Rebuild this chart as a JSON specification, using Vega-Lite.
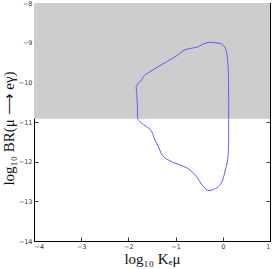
{
  "$schema": "https://vega.github.io/schema/vega-lite/v6.json",
  "width": 236,
  "height": 238,
  "autosize": {"type": "none"},
  "padding": {"left": 34, "top": 3, "right": 3, "bottom": 28},
  "background": "white",
  "config": {
    "view": {"stroke": "black", "strokeWidth": 1},
    "axis": {
      "grid": false,
      "domain": false,
      "tickSize": -4,
      "tickColor": "black",
      "tickWidth": 0.8,
      "labelFont": "DejaVu Sans",
      "labelFontSize": 6.5,
      "labelColor": "#333",
      "titleFont": "Liberation Serif",
      "titleFontSize": 15,
      "titleFontWeight": "normal",
      "titleColor": "#111"
    }
  },
  "layer": [
    {
      "data": {"values": [{"x0": -4, "x1": 1, "y0": -10.92, "y1": -8}]},
      "mark": {"type": "rect", "color": "#cdcdcd"},
      "encoding": {
        "x": {"field": "x0", "type": "quantitative", "scale": {"domain": [-4, 1], "nice": false, "zero": false},
          "axis": {"orient": "bottom", "values": [-4, -3, -2, -1, 0, 1], "title": "log₁₀ Kₑμ", "labelPadding": 6, "titleY": 22, "titleBaseline": "alphabetic", "labelExpr": "replace(datum.label, '-', '−')"}},
        "x2": {"field": "x1"},
        "y": {"field": "y0", "type": "quantitative", "scale": {"domain": [-14, -8], "nice": false, "zero": false},
          "axis": {"orient": "left", "values": [-14, -13, -12, -11, -10, -9, -8], "title": "log₁₀ BR(μ ⟶ eγ)", "labelPadding": 6, "titleX": -26, "titleY": 125, "titleBaseline": "middle", "labelExpr": "replace(datum.label, '-', '−')"}},
        "y2": {"field": "y1"}
      }
    },
    {
      "data": {"values": [
        {"i": 0, "x": -0.285, "y": -8.99},
        {"i": 1, "x": -0.06, "y": -9.02},
        {"i": 2, "x": 0.054, "y": -9.14},
        {"i": 3, "x": 0.096, "y": -9.39},
        {"i": 4, "x": 0.117, "y": -9.69},
        {"i": 5, "x": 0.124, "y": -10.45},
        {"i": 6, "x": 0.124, "y": -10.92},
        {"i": 7, "x": 0.124, "y": -11.45},
        {"i": 8, "x": 0.11, "y": -11.87},
        {"i": 9, "x": 0.054, "y": -12.21},
        {"i": 10, "x": -0.003, "y": -12.46},
        {"i": 11, "x": -0.095, "y": -12.63},
        {"i": 12, "x": -0.2, "y": -12.7},
        {"i": 13, "x": -0.292, "y": -12.73},
        {"i": 14, "x": -0.41, "y": -12.63},
        {"i": 15, "x": -0.554, "y": -12.38},
        {"i": 16, "x": -0.695, "y": -12.21},
        {"i": 17, "x": -0.907, "y": -12.08},
        {"i": 18, "x": -1.12, "y": -11.98},
        {"i": 19, "x": -1.295, "y": -11.81},
        {"i": 20, "x": -1.366, "y": -11.62},
        {"i": 21, "x": -1.437, "y": -11.45},
        {"i": 22, "x": -1.507, "y": -11.24},
        {"i": 23, "x": -1.613, "y": -11.12},
        {"i": 24, "x": -1.754, "y": -10.99},
        {"i": 25, "x": -1.804, "y": -10.91},
        {"i": 26, "x": -1.81, "y": -10.61},
        {"i": 27, "x": -1.825, "y": -10.28},
        {"i": 28, "x": -1.839, "y": -10.11},
        {"i": 29, "x": -1.79, "y": -10.01},
        {"i": 30, "x": -1.72, "y": -9.94},
        {"i": 31, "x": -1.684, "y": -9.86},
        {"i": 32, "x": -1.578, "y": -9.76},
        {"i": 33, "x": -1.4, "y": -9.63},
        {"i": 34, "x": -1.19, "y": -9.48},
        {"i": 35, "x": -0.977, "y": -9.33},
        {"i": 36, "x": -0.8, "y": -9.18},
        {"i": 37, "x": -0.66, "y": -9.14},
        {"i": 38, "x": -0.518, "y": -9.1},
        {"i": 39, "x": -0.41, "y": -9.03},
        {"i": 40, "x": -0.285, "y": -8.99}
      ]},
      "mark": {"type": "line", "color": "#5a5aff", "strokeWidth": 1, "interpolate": "monotone"},
      "encoding": {
        "x": {"field": "x", "type": "quantitative", "axis": {"orient": "top", "values": [-4, -3, -2, -1, 0, 1], "labels": false, "title": null}},
        "y": {"field": "y", "type": "quantitative", "axis": {"orient": "right", "values": [-14, -13, -12, -11, -10, -9, -8], "labels": false, "title": null}},
        "order": {"field": "i", "type": "quantitative"}
      }
    }
  ],
  "resolve": {"axis": {"x": "independent", "y": "independent"}}
}
